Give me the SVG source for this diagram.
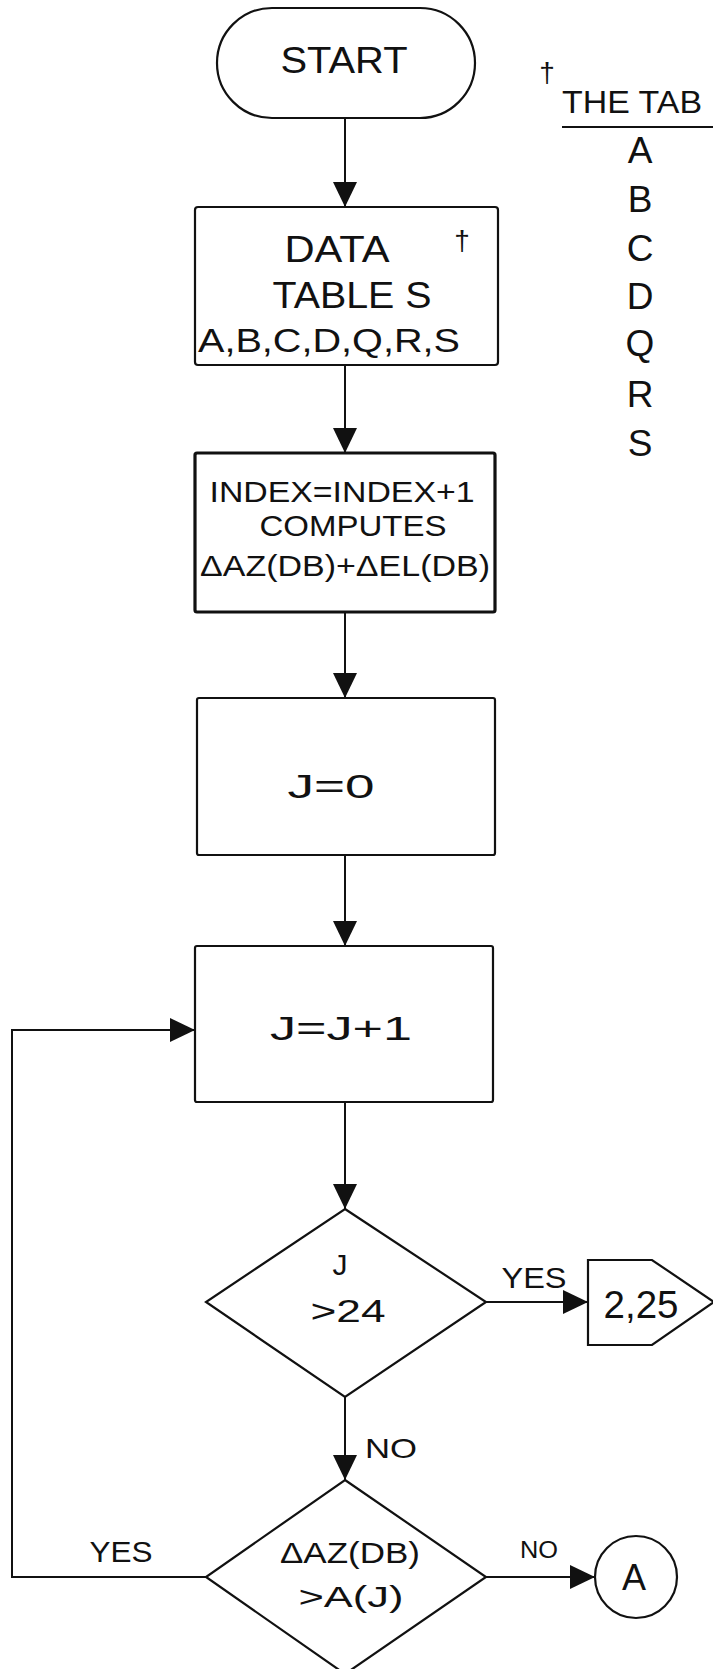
<svg xmlns="http://www.w3.org/2000/svg" width="713" height="1669" viewBox="0 0 713 1669">
<style>
.shape{fill:#fff;stroke:#111;stroke-width:2.2}
.thick{stroke-width:3.2}
.t{font-family:"Liberation Sans",Arial,sans-serif;fill:#111;text-anchor:middle}
.c{fill:none;stroke:#111;stroke-width:2}
</style>
<defs>
<marker id="ah" markerUnits="userSpaceOnUse" markerWidth="26" markerHeight="26" refX="25" refY="12" orient="auto">
<path d="M0,0 L25,12 L0,24 Z" fill="#111"/>
</marker>
</defs>
<rect width="713" height="1669" fill="#fff"/>

<g id="connectors">
<line class="c" x1="345" y1="118" x2="345" y2="207" marker-end="url(#ah)"/>
<line class="c" x1="345" y1="365" x2="345" y2="453" marker-end="url(#ah)"/>
<line class="c" x1="345" y1="612" x2="345" y2="698" marker-end="url(#ah)"/>
<line class="c" x1="345" y1="855" x2="345" y2="946" marker-end="url(#ah)"/>
<line class="c" x1="345" y1="1102" x2="345" y2="1209" marker-end="url(#ah)"/>
<line class="c" x1="486" y1="1302" x2="588" y2="1302" stroke-width="3" marker-end="url(#ah)"/>
<line class="c" x1="345" y1="1397" x2="345" y2="1480" marker-end="url(#ah)"/>
<line class="c" x1="486" y1="1577" x2="595" y2="1577" stroke-width="3" marker-end="url(#ah)"/>
<path class="c" d="M206,1577 L12,1577 L12,1030 L195,1030" marker-end="url(#ah)"/>
<text class="t" x="534" y="1288" font-size="30" textLength="65" lengthAdjust="spacingAndGlyphs">YES</text>
<text class="t" x="391" y="1458" font-size="28" textLength="52" lengthAdjust="spacingAndGlyphs">NO</text>
<text class="t" x="121" y="1562" font-size="30" textLength="63" lengthAdjust="spacingAndGlyphs">YES</text>
<text class="t" x="539" y="1558" font-size="23" textLength="38" lengthAdjust="spacingAndGlyphs">NO</text>
</g>

<g id="start">
<rect class="shape" x="217" y="8" width="258" height="110" rx="55" ry="55"/>
<text class="t" x="344" y="73" font-size="36" textLength="127" lengthAdjust="spacingAndGlyphs">START</text>
</g>

<g id="legend">
<text class="t" x="547" y="82" font-size="28">†</text>
<text class="t" x="632" y="113" font-size="32" textLength="140" lengthAdjust="spacingAndGlyphs">THE TAB</text>
<line x1="562" y1="127" x2="713" y2="127" stroke="#111" stroke-width="2"/>
<text class="t" x="640" y="163" font-size="37">A</text>
<text class="t" x="640" y="212" font-size="37">B</text>
<text class="t" x="640" y="261" font-size="37">C</text>
<text class="t" x="640" y="309" font-size="37">D</text>
<text class="t" x="640" y="356" font-size="37">Q</text>
<text class="t" x="640" y="407" font-size="37">R</text>
<text class="t" x="640" y="456" font-size="37">S</text>
</g>

<g id="data-tables">
<rect class="shape" x="195" y="207" width="303" height="158" rx="3"/>
<text class="t" x="337" y="262" font-size="36" textLength="105" lengthAdjust="spacingAndGlyphs">DATA</text>
<text class="t" x="352" y="308" font-size="36" textLength="159" lengthAdjust="spacingAndGlyphs">TABLE S</text>
<text class="t" x="329" y="352" font-size="34" textLength="262" lengthAdjust="spacingAndGlyphs">A,B,C,D,Q,R,S</text>
<text class="t" x="462" y="250" font-size="28">†</text>
</g>

<g id="index">
<rect class="shape thick" x="195" y="453" width="300" height="159" rx="2"/>
<text class="t" x="342" y="502" font-size="29" textLength="265" lengthAdjust="spacingAndGlyphs">INDEX=INDEX+1</text>
<text class="t" x="353" y="536" font-size="29" textLength="187" lengthAdjust="spacingAndGlyphs">COMPUTES</text>
<text class="t" x="345" y="576" font-size="29" textLength="290" lengthAdjust="spacingAndGlyphs">ΔAZ(DB)+ΔEL(DB)</text>
</g>

<g id="j-zero">
<rect class="shape" x="197" y="698" width="298" height="157" rx="2"/>
<text class="t" x="331" y="798" font-size="34" textLength="87" lengthAdjust="spacingAndGlyphs">J=0</text>
</g>

<g id="j-increment">
<rect class="shape" x="195" y="946" width="298" height="156" rx="2"/>
<text class="t" x="341" y="1040" font-size="34" textLength="142" lengthAdjust="spacingAndGlyphs">J=J+1</text>
</g>

<g id="decision-j">
<path class="shape" d="M345,1209 L486,1302 L345,1397 L206,1302 Z"/>
<text class="t" x="340" y="1275" font-size="30">J</text>
<text class="t" x="348" y="1322" font-size="32" textLength="75" lengthAdjust="spacingAndGlyphs">&gt;24</text>
</g>

<g id="offpage-225">
<path class="shape" d="M588,1260 L652,1260 L714,1302 L652,1345 L588,1345 Z"/>
<text class="t" x="641" y="1318" font-size="38" textLength="75" lengthAdjust="spacingAndGlyphs">2,25</text>
</g>

<g id="decision-az">
<path class="shape" d="M345,1480 L486,1577 L345,1674 L206,1577 Z"/>
<text class="t" x="350" y="1563" font-size="30" textLength="140" lengthAdjust="spacingAndGlyphs">ΔAZ(DB)</text>
<text class="t" x="351" y="1607" font-size="30" textLength="105" lengthAdjust="spacingAndGlyphs">&gt;A(J)</text>
</g>

<g id="connector-a">
<circle class="shape" cx="636" cy="1577" r="41"/>
<text class="t" x="634" y="1590" font-size="36">A</text>
</g>
</svg>
